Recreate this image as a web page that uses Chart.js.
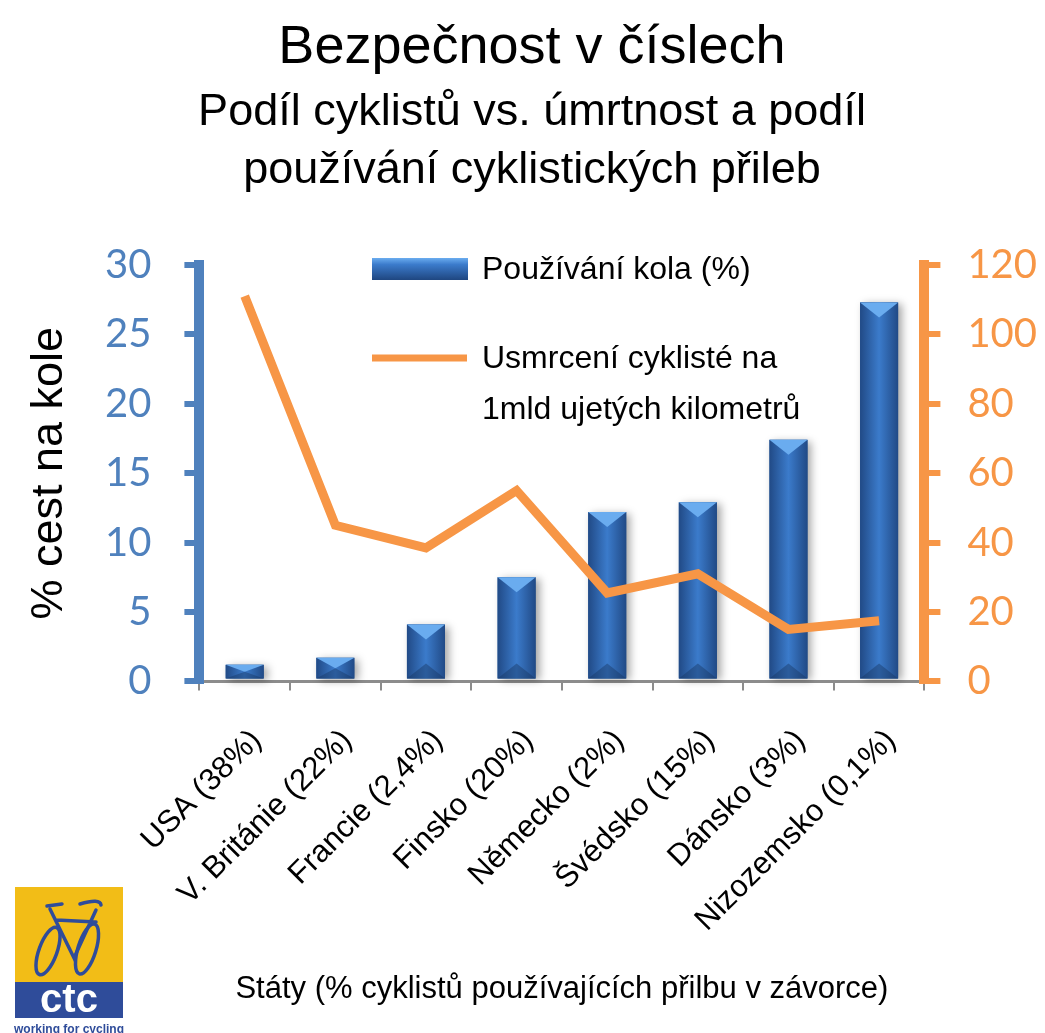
<!DOCTYPE html>
<html lang="cs">
<head>
<meta charset="utf-8">
<title>Bezpečnost v číslech</title>
<script src="https://cdn.jsdelivr.net/npm/chart.js@4.4.0/dist/chart.umd.min.js"></script>
<style>
    html, body { margin: 0; padding: 0; background: #ffffff; }
    #wrap { width: 1045px; height: 1033px; }
</style>
</head>
<body>
<div id="wrap"><canvas id="chart" width="1045" height="1033"></canvas></div>
<script>
// Data
const countries = ['USA (38%)', 'V. Británie (22%)', 'Francie (2,4%)', 'Finsko (20%)',
    'Německo (2%)', 'Švédsko (15%)', 'Dánsko (3%)', 'Nizozemsko (0,1%)'];
const cyclingShare = [1.2, 1.7, 4.1, 7.5, 12.2, 12.9, 17.4, 27.3];
const fatalities = [111, 45, 38.5, 55, 25.5, 31, 15, 17.5];

const barLabel = 'Používání kola (%)';
const lineLabel = 'Usmrcení cyklisté na\n1mld ujetých kilometrů';

const BLUE = '#4F81BD';
const ORANGE = '#F79646';
const TEXT_FONT = "'Liberation Sans', Arial, sans-serif";
const NUM_FONT = "Lato, 'Open Sans', sans-serif";

// Bevelled look for the bars, drawn over the library's own bar elements
const barLook = {
    id: 'barLook',
    afterDatasetDraw(chart, args) {
        if (args.index !== 0) return;
        const ctx = chart.ctx;
        args.meta.data.forEach(bar => {
            const { x, y, base, width } = bar.getProps(['x', 'y', 'base', 'width'], true);
            const l = x - width / 2, r = x + width / 2, h = base - y;
            const g = ctx.createLinearGradient(l, 0, r, 0);
            g.addColorStop(0, '#214a86');
            g.addColorStop(0.5, '#3b7bcb');
            g.addColorStop(1, '#214a86');
            ctx.save();
            ctx.shadowColor = 'rgba(0,0,0,0.35)';
            ctx.shadowBlur = 8;
            ctx.shadowOffsetX = 4;
            ctx.shadowOffsetY = 2;
            ctx.fillStyle = g;
            ctx.fillRect(l, y, width, h);
            ctx.restore();
            const d = Math.min(15, h / 2);
            // light top bevel
            ctx.fillStyle = '#6aacef';
            ctx.beginPath();
            ctx.moveTo(l, y);
            ctx.lineTo(r, y);
            ctx.lineTo(x, y + d);
            ctx.closePath();
            ctx.fill();
            // dark bottom bevel
            ctx.fillStyle = 'rgba(25,55,100,0.45)';
            ctx.beginPath();
            ctx.moveTo(l, base);
            ctx.lineTo(r, base);
            ctx.lineTo(x, base - d);
            ctx.closePath();
            ctx.fill();
        });
    }
};

// Legend placed inside the plot, as in the reference
const innerLegend = {
    id: 'innerLegend',
    afterDraw(chart) {
        const ctx = chart.ctx;
        const ds = chart.data.datasets;
        ctx.save();
        ctx.font = '32px ' + TEXT_FONT;
        ctx.fillStyle = '#000';
        ctx.textBaseline = 'middle';
        ctx.textAlign = 'left';

        // bar symbol
        const g = ctx.createLinearGradient(0, 258, 0, 280);
        g.addColorStop(0, '#6aacef');
        g.addColorStop(0.3, '#3b7bcb');
        g.addColorStop(1, '#1f4680');
        ctx.fillStyle = g;
        ctx.fillRect(372, 258, 96, 22);
        ctx.fillStyle = '#000';
        ctx.fillText(ds[0].label, 482, 270);

        // line symbol
        ctx.strokeStyle = ORANGE;
        ctx.lineWidth = 7;
        ctx.beginPath();
        ctx.moveTo(372, 358);
        ctx.lineTo(467, 358);
        ctx.stroke();
        ds[1].label.split('\n').forEach((t, i) => {
            ctx.fillText(t, 482, 359 + i * 51);
        });
        ctx.restore();
    }
};

// CTC logo, bottom left
const logo = {
    id: 'logo',
    afterDraw(chart) {
        const ctx = chart.ctx;
        ctx.save();
        ctx.fillStyle = '#F2BD17';
        ctx.fillRect(15, 887, 108, 95);
        ctx.fillStyle = '#2F4C9A';
        ctx.fillRect(15, 982, 108, 36);
        ctx.fillStyle = '#fff';
        ctx.font = "bold 40px 'Liberation Sans', Arial, sans-serif";
        ctx.textAlign = 'center';
        ctx.textBaseline = 'alphabetic';
        ctx.fillText('ctc', 69, 1012);
        ctx.fillStyle = '#2F4C9A';
        ctx.font = "bold 12px 'Liberation Sans', Arial, sans-serif";
        ctx.fillText('working for cycling', 69, 1033);

        // bicycle
        ctx.strokeStyle = '#2F4C9A';
        ctx.lineWidth = 3.5;
        ctx.lineCap = 'round';
        ctx.beginPath();
        ctx.ellipse(48, 951, 9, 25, 0.35, 0, Math.PI * 2);
        ctx.stroke();
        ctx.beginPath();
        ctx.ellipse(87, 949, 9, 26, 0.3, 0, Math.PI * 2);
        ctx.stroke();
        ctx.beginPath();
        ctx.moveTo(50, 909);
        ctx.lineTo(74, 958);
        ctx.lineTo(96, 910);
        ctx.moveTo(56, 920);
        ctx.lineTo(96, 922);
        ctx.moveTo(47, 906);
        ctx.lineTo(62, 904);
        ctx.moveTo(80, 904);
        ctx.quadraticCurveTo(100, 898, 101, 905);
        ctx.stroke();
        ctx.restore();
    }
};

document.addEventListener('DOMContentLoaded', function() {
    const ctx = document.getElementById('chart').getContext('2d');
    new Chart(ctx, {
        data: {
            labels: countries,
            datasets: [{
                type: 'bar',
                label: barLabel,
                data: cyclingShare,
                yAxisID: 'y',
                backgroundColor: '#3670b8',
                barPercentage: 0.42,
                categoryPercentage: 1,
                order: 1
            }, {
                type: 'line',
                label: lineLabel,
                data: fatalities,
                yAxisID: 'y1',
                borderColor: ORANGE,
                borderWidth: 9,
                borderJoinStyle: 'miter',
                pointRadius: 0,
                tension: 0,
                order: 0
            }]
        },
        options: {
            responsive: false,
            animation: false,
            layout: { padding: { left: 0, right: -19, top: 0, bottom: 16 } },
            scales: {
                x: {
                    grid: { offset: true, drawOnChartArea: false, tickLength: 9, lineWidth: 2, color: '#8c8c8c' },
                    border: { display: true, width: 3, color: '#8c8c8c' },
                    ticks: {
                        color: '#000',
                        font: { family: TEXT_FONT, size: 31 },
                        minRotation: 45,
                        maxRotation: 45,
                        autoSkip: false,
                        padding: 32,
                        labelOffset: 12
                    },
                    title: {
                        display: true,
                        text: 'Státy (% cyklistů používajících přilbu v závorce)',
                        color: '#000',
                        font: { family: TEXT_FONT, size: 31 },
                        padding: { top: 0, bottom: 9 }
                    }
                },
                y: {
                    position: 'left',
                    min: 0,
                    max: 30,
                    ticks: { stepSize: 5, color: BLUE, font: { family: NUM_FONT, size: 40 }, padding: 33 },
                    grid: { drawOnChartArea: false, tickLength: 15, lineWidth: 6, color: BLUE },
                    border: { display: true, width: 10, color: BLUE },
                    title: {
                        display: true,
                        text: '% cest na kole',
                        color: '#000',
                        font: { family: TEXT_FONT, size: 45, lineHeight: 1.0 },
                        padding: { top: 27, bottom: 0 }
                    }
                },
                y1: {
                    position: 'right',
                    min: 0,
                    max: 120,
                    ticks: { stepSize: 20, color: ORANGE, font: { family: NUM_FONT, size: 40 }, padding: 27 },
                    grid: { drawOnChartArea: false, tickLength: 16, lineWidth: 6, color: ORANGE },
                    border: { display: true, width: 10, color: ORANGE }
                }
            },
            plugins: {
                legend: { display: false },
                tooltip: { enabled: false },
                title: {
                    display: true,
                    text: 'Bezpečnost v číslech',
                    color: '#000',
                    font: { family: TEXT_FONT, size: 54, weight: 'normal' },
                    padding: { top: 16, bottom: 3 }
                },
                subtitle: {
                    display: true,
                    text: ['Podíl cyklistů vs. úmrtnost a podíl', 'používání cyklistických přileb'],
                    color: '#000',
                    font: { family: TEXT_FONT, size: 45, lineHeight: 1.29 },
                    padding: { top: 0, bottom: 65 }
                }
            }
        },
        plugins: [barLook, innerLegend, logo]
    });
});
</script>
</body>
</html>
